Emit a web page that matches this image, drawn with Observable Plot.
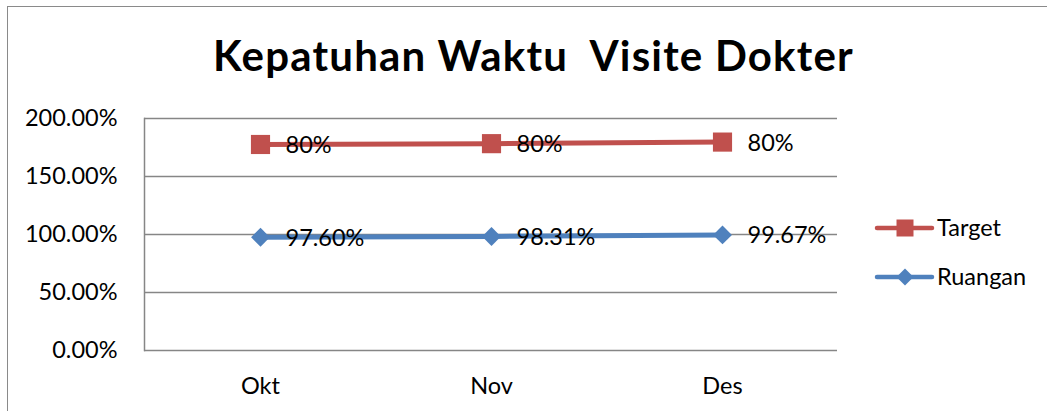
<!DOCTYPE html>
<html>
<head>
<meta charset="utf-8">
<script src="https://cdn.jsdelivr.net/npm/d3@7"></script>
<script src="https://cdn.jsdelivr.net/npm/@observablehq/plot@0.6"></script>
<style>
  html, body { margin: 0; padding: 0; background: #fff; }
  #wrap { position: relative; width: 1047px; height: 411px; overflow: hidden; font-family: Lato, "DejaVu Sans", sans-serif; }
  #border { position: absolute; left: 7px; top: 6px; width: 1200px; height: 600px; border: 1.5px solid #8a8a8a; box-sizing: border-box; }
  #title { position: absolute; left: 0; top: 30px; width: 1067px; text-align: center; font-size: 42px; letter-spacing: 1.2px; font-weight: bold; line-height: 1.2; color: #000; white-space: pre; }
  #chart { position: absolute; left: 0; top: 0; }
</style>
</head>
<body>
<div id="wrap">
  <div id="border"></div>
  <div id="title"></div>
  <div id="chart"></div>
</div>
<script>
const titleText = "Kepatuhan Waktu  Visite Dokter";
const categories = ["Okt", "Nov", "Des"];
const ruangan = [97.60, 98.31, 99.67];
const target = [80, 80, 80];
const ruanganLabels = ["97.60%", "98.31%", "99.67%"];
const targetLabels = ["80%", "80%", "80%"];
const yTicks = [0, 50, 100, 150, 200];
const seriesNames = ["Target", "Ruangan"];
const colors = {Target: "#C0504D", Ruangan: "#4F81BD"};

document.getElementById("title").textContent = titleText;

// Excel stacked line: Target is drawn on top of Ruangan
const rRows = categories.map((c, i) => ({cat: c, y: ruangan[i], label: ruanganLabels[i]}));
const tRows = categories.map((c, i) => ({cat: c, y: ruangan[i] + target[i], label: targetLabels[i]}));

const W = 1047, H = 411;
const FS = 23.5;
const chart = Plot.plot({
  width: W,
  height: H,
  marginTop: 118,
  marginLeft: 144,
  marginRight: 210,
  marginBottom: 61,
  x: {type: "point", domain: categories, padding: 0.5, label: null},
  y: {domain: [0, 200], label: null},
  style: {fontFamily: "Lato, 'DejaVu Sans', sans-serif", fontSize: FS + "px", color: "#000", background: "transparent", overflow: "visible"},
  marks: [
    Plot.gridY(yTicks, {stroke: "#868686", strokeOpacity: 1, strokeWidth: 1.5}),
    Plot.frame({anchor: "left", stroke: "#868686", strokeWidth: 1.5}),
    Plot.axisY(yTicks, {tickSize: 0, tickPadding: 27, tickFormat: d => d.toFixed(2) + "%", fontSize: FS, fill: "#000"}),
    Plot.axisX(categories, {tickSize: 0, tickPadding: 27, fontSize: FS, fill: "#000"}),
    Plot.line(rRows, {x: "cat", y: "y", stroke: colors.Ruangan, strokeWidth: 5}),
    Plot.line(tRows, {x: "cat", y: "y", stroke: colors.Target, strokeWidth: 5}),
    Plot.dot(rRows, {x: "cat", y: "y", symbol: "diamond2", r: 8.5, fill: colors.Ruangan, stroke: null}),
    Plot.dot(tRows, {x: "cat", y: "y", symbol: "square", r: 10.8, fill: colors.Target, stroke: null}),
    Plot.text(rRows, {x: "cat", y: "y", text: "label", textAnchor: "start", dx: 25, dy: 1, fontSize: FS, fill: "#000"}),
    Plot.text(tRows, {x: "cat", y: "y", text: "label", textAnchor: "start", dx: 25, dy: 1, fontSize: FS, fill: "#000"})
  ]
});
document.getElementById("chart").appendChild(chart);

// Legend (drawn beside the plot area)
const svg = d3.select(chart);
const lg = svg.append("g")
  .attr("font-family", "Lato, 'DejaVu Sans', sans-serif")
  .attr("font-size", FS)
  .attr("text-anchor", "start");
const legendY = [228, 277];
seriesNames.forEach((name, i) => {
  const g = lg.append("g").attr("transform", `translate(0,${legendY[i]})`);
  g.append("line").attr("x1", 877).attr("x2", 932).attr("y1", 0).attr("y2", 0)
    .attr("stroke", colors[name]).attr("stroke-width", 4.5).attr("stroke-linecap", "round");
  const sym = name === "Target" ? d3.symbolSquare : d3.symbolDiamond2;
  const size = name === "Target" ? 17 * 17 : Math.pow(17 / (2 * 0.62625), 2);
  g.append("path").attr("d", d3.symbol(sym, size)()).attr("transform", "translate(905,0)").attr("fill", colors[name]);
  g.append("text").attr("x", 937).attr("y", 0).attr("dy", "0.32em").attr("text-anchor", "start").attr("fill", "#000").text(name);
});
</script>
</body>
</html>
